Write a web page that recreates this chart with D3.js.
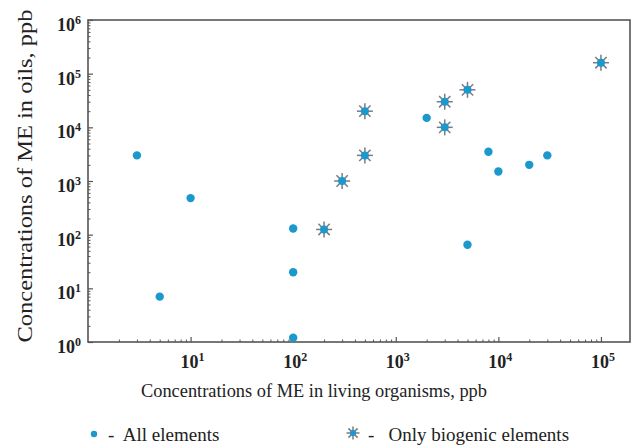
<!DOCTYPE html>
<html>
<head>
<meta charset="utf-8">
<script src="https://cdn.jsdelivr.net/npm/d3@7"></script>
<style>
  body { margin: 0; background: #fff; }
  svg { display: block; }
  text { font-family: "Liberation Serif", "Times New Roman", serif; fill: #222; }
</style>
</head>
<body>
<script>
// all elements (dots)
var allX = [3, 10, 5, 100, 100, 100, 5000, 2000, 8000, 10000, 20000, 30000];
var allY = [3000, 480, 7, 130, 20, 1.2, 65, 15000, 3500, 1500, 2000, 3000];
// only biogenic elements (stars)
var bioX = [200, 300, 500, 500, 3000, 3000, 5000, 100000];
var bioY = [125, 1000, 3000, 20000, 10000, 30000, 50000, 160000];

var xTickExp = [1, 2, 3, 4, 5];
var yTickExp = [0, 1, 2, 3, 4, 5, 6];

var width = 634, height = 447;
var plotL = 88, plotR = 630, plotT = 20, plotB = 342;

var blue = "#1b98cc", starGrey = "#7b7a82", axisGrey = "#555";

var svg = d3.select("body").append("svg")
    .attr("width", width)
    .attr("height", height);

var x = d3.scaleLog().domain([1, 191900]).range([plotL, plotR]);
var y = d3.scaleLog().domain([1, 1e6]).range([plotB, plotT]);

function minors(lo, hi) {
  var out = [];
  for (var e = lo; e < hi; e++) {
    for (var k = 2; k <= 9; k++) {
      out.push(k * Math.pow(10, e));
    }
  }
  return out;
}

// frame
svg.append("rect")
    .attr("x", plotL).attr("y", plotT)
    .attr("width", plotR - plotL).attr("height", plotB - plotT)
    .attr("fill", "none")
    .attr("stroke", axisGrey)
    .attr("stroke-width", 1.6);

// x axis ticks (inward)
var xMajor = xTickExp.map(function(e) { return Math.pow(10, e); });
var xMinor = minors(0, 6).filter(function(v) { return v < 191900; });

svg.append("g")
    .attr("transform", "translate(0," + plotB + ")")
    .call(d3.axisBottom(x).tickValues(xMajor).tickSize(-5).tickFormat(""))
    .call(function(g) { g.select(".domain").remove(); g.selectAll("line").attr("stroke", axisGrey).attr("stroke-width", 1.2); });

svg.append("g")
    .attr("transform", "translate(0," + plotB + ")")
    .call(d3.axisBottom(x).tickValues(xMinor).tickSize(-2.5).tickFormat(""))
    .call(function(g) { g.select(".domain").remove(); g.selectAll("line").attr("stroke", axisGrey).attr("stroke-width", 1); });

// y axis ticks (inward)
var yMajor = yTickExp.map(function(e) { return Math.pow(10, e); });
var yMinor = minors(0, 6);

svg.append("g")
    .attr("transform", "translate(" + plotL + ",0)")
    .call(d3.axisLeft(y).tickValues(yMajor).tickSize(-5).tickFormat(""))
    .call(function(g) { g.select(".domain").remove(); g.selectAll("line").attr("stroke", axisGrey).attr("stroke-width", 1.2); });

svg.append("g")
    .attr("transform", "translate(" + plotL + ",0)")
    .call(d3.axisLeft(y).tickValues(yMinor).tickSize(-2.5).tickFormat(""))
    .call(function(g) { g.select(".domain").remove(); g.selectAll("line").attr("stroke", axisGrey).attr("stroke-width", 1); });

// tick labels 10^n
function powLabel(sel) {
  sel.append("tspan").text("10");
  sel.append("tspan")
      .attr("dy", -7)
      .attr("font-size", 12)
      .text(function(d) { return d; });
}

svg.append("g").selectAll("text")
    .data(xTickExp)
  .enter().append("text")
    .attr("x", function(d) { return x(Math.pow(10, d)) + 2; })
    .attr("y", 368)
    .attr("text-anchor", "middle")
    .attr("font-size", 18)
    .attr("font-weight", "bold")
    .call(powLabel);

svg.append("g").selectAll("text")
    .data(yTickExp)
  .enter().append("text")
    .attr("x", 81)
    .attr("y", function(d) { return y(Math.pow(10, d)) + 11; })
    .attr("text-anchor", "end")
    .attr("font-size", 18)
    .attr("font-weight", "bold")
    .call(powLabel);

// axis titles
svg.append("text")
    .attr("x", 314)
    .attr("y", 397)
    .attr("text-anchor", "middle")
    .attr("font-size", 19)
    .attr("textLength", 346)
    .attr("lengthAdjust", "spacingAndGlyphs")
    .text("Concentrations of ME in living organisms, ppb");

svg.append("text")
    .attr("transform", "translate(32,176) rotate(-90)")
    .attr("text-anchor", "middle")
    .attr("font-size", 21)
    .attr("textLength", 333)
    .attr("lengthAdjust", "spacingAndGlyphs")
    .text("Concentrations of ME in oils, ppb");

// star marker
function star(g, r) {
  for (var i = 0; i < 4; i++) {
    var a = i * Math.PI / 4;
    g.append("line")
        .attr("x1", -r * Math.cos(a)).attr("y1", -r * Math.sin(a))
        .attr("x2", r * Math.cos(a)).attr("y2", r * Math.sin(a))
        .attr("stroke", starGrey)
        .attr("stroke-width", 1.5);
  }
  g.append("circle")
      .attr("r", 4)
      .attr("fill", blue);
}

// points
svg.append("g").selectAll("circle")
    .data(allX)
  .enter().append("circle")
    .attr("cx", function(d) { return x(d); })
    .attr("cy", function(d, i) { return y(allY[i]); })
    .attr("r", 4.2)
    .attr("fill", blue);

svg.append("g").selectAll("g")
    .data(bioX)
  .enter().append("g")
    .attr("transform", function(d, i) { return "translate(" + x(d) + "," + y(bioY[i]) + ")"; })
    .each(function() { star(d3.select(this), 8); });

// legend
var legend = svg.append("g");
legend.append("circle")
    .attr("cx", 94).attr("cy", 434).attr("r", 3.2)
    .attr("fill", blue);
legend.append("text")
    .attr("x", 108).attr("y", 441)
    .attr("font-size", 19)
    .attr("xml:space", "preserve")
    .text("-  All elements");

var lstar = legend.append("g").attr("transform", "translate(353,433)");
star(lstar, 6.5);
lstar.select("circle").attr("r", 3);
legend.append("text")
    .attr("x", 368).attr("y", 441)
    .attr("font-size", 19)
    .attr("xml:space", "preserve")
    .text("-   Only biogenic elements");
</script>
</body>
</html>
